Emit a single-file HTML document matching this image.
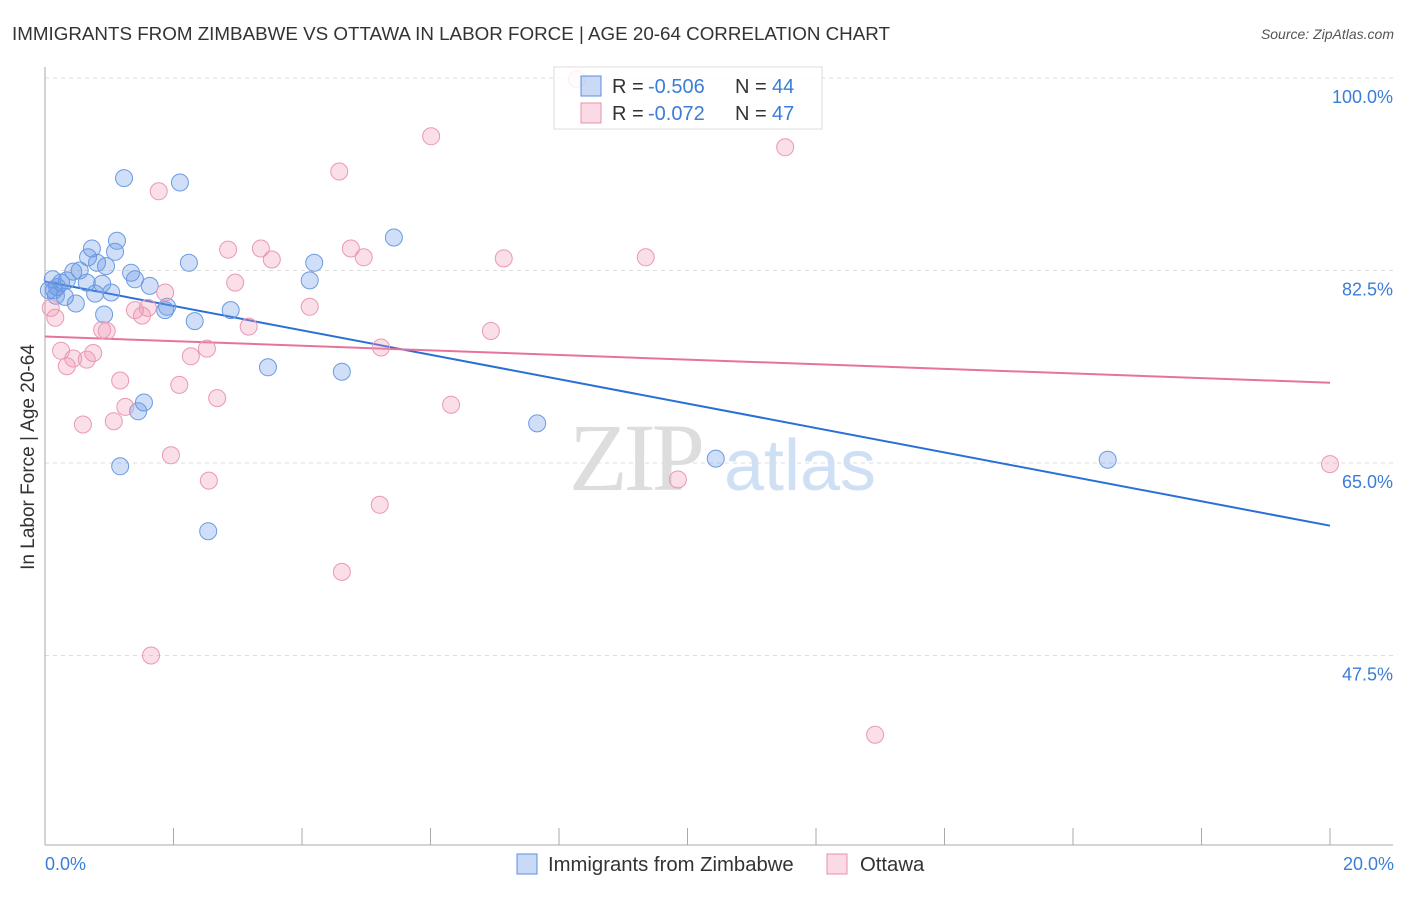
<!DOCTYPE html>
<html><head><meta charset="utf-8"><style>
body{margin:0;background:#fff;font-family:"Liberation Sans",sans-serif;}
</style></head><body>
<svg width="1406" height="892" xmlns="http://www.w3.org/2000/svg">
<text x="12" y="40" font-size="18.8" fill="#333">IMMIGRANTS FROM ZIMBABWE VS OTTAWA IN LABOR FORCE | AGE 20-64 CORRELATION CHART</text>
<text x="1394" y="39" font-size="14" fill="#555" text-anchor="end" font-style="italic">Source: ZipAtlas.com</text>
<g>
<text x="635" y="490" font-size="96" fill="#ddd" text-anchor="middle" font-family="Liberation Serif,serif" letter-spacing="-4">ZIP</text>
<text x="800" y="490" font-size="72" fill="#cfe0f5" text-anchor="middle">atlas</text>
</g>
<g id="grid"></g>
<g id="axes"></g>
<g id="lines"></g>
<g id="pts"></g>
<text transform="translate(34,457) rotate(-90)" font-size="19" fill="#333" text-anchor="middle">In Labor Force | Age 20-64</text>
<text x="45" y="870" font-size="18" fill="#3b7dd8">0.0%</text>
<text x="1394" y="870" font-size="18" fill="#3b7dd8" text-anchor="end">20.0%</text>
<g>
<rect x="554" y="67" width="268" height="62" fill="rgba(255,255,255,0.85)" stroke="#ddd"/>
<rect x="581" y="76" width="20" height="20" fill="rgba(100,150,230,0.35)" stroke="#5b8ee0"/>
<rect x="581" y="103" width="20" height="20" fill="rgba(240,150,180,0.35)" stroke="#e890ab"/>
<text x="612" y="93" font-size="20" fill="#333">R =</text>
<text x="648" y="93" font-size="20" fill="#3b7dd8">-0.506</text>
<text x="735" y="93" font-size="20" fill="#333">N =</text>
<text x="772" y="93" font-size="20" fill="#3b7dd8">44</text>
<text x="612" y="120" font-size="20" fill="#333">R =</text>
<text x="648" y="120" font-size="20" fill="#3b7dd8">-0.072</text>
<text x="735" y="120" font-size="20" fill="#333">N =</text>
<text x="772" y="120" font-size="20" fill="#3b7dd8">47</text>
</g>
<g>
<rect x="517" y="854" width="20" height="20" fill="rgba(100,150,230,0.35)" stroke="#5b8ee0"/>
<text x="548" y="871" font-size="20.3" fill="#333">Immigrants from Zimbabwe</text>
<rect x="827" y="854" width="20" height="20" fill="rgba(240,150,180,0.35)" stroke="#e890ab"/>
<text x="860" y="871" font-size="20.3" fill="#333">Ottawa</text>
</g>
</svg>
<script>
const yTicks=[100,82.5,65,47.5];
const yTickLabels=["100.0%","82.5%","65.0%","47.5%"];
const xTicks=[0,2,4,6,8,10,12,14,16,18,20];
const blueX=[1.23,2.10,1.12,0.73,1.09,0.67,0.81,0.95,0.54,0.44,0.12,1.34,1.40,0.34,0.25,0.19,0.06,0.89,1.63,0.78,1.03,0.31,0.48,0.92,1.90,1.87,2.33,2.89,2.24,4.19,4.12,5.43,3.47,4.62,1.54,1.45,1.17,2.54,7.66,10.44,16.54,0.14,0.17,0.65];
const blueY=[90.9,90.5,85.2,84.5,84.2,83.7,83.2,82.9,82.5,82.4,81.7,82.3,81.7,81.6,81.4,81.0,80.7,81.3,81.1,80.4,80.5,80.1,79.5,78.5,79.2,78.9,77.9,78.9,83.2,83.2,81.6,85.5,73.7,73.3,70.5,69.7,64.7,58.8,68.6,65.4,65.3,80.7,80.2,81.4];
const pinkX=[8.28,6.01,11.52,4.58,1.77,2.85,3.36,4.76,4.96,3.53,7.14,9.35,2.96,1.87,4.12,1.40,1.60,1.51,0.16,3.17,0.89,0.96,6.94,5.23,2.52,0.25,0.75,2.27,0.44,0.65,0.34,1.17,2.09,2.68,6.32,1.25,1.07,0.59,1.96,2.55,9.85,20.0,5.21,4.62,1.65,12.92,0.09];
const pinkY=[99.9,94.7,93.7,91.5,89.7,84.4,84.5,84.5,83.7,83.5,83.6,83.7,81.4,80.5,79.2,78.9,79.1,78.4,78.2,77.4,77.1,77.0,77.0,75.5,75.4,75.2,75.0,74.7,74.5,74.4,73.8,72.5,72.1,70.9,70.3,70.1,68.8,68.5,65.7,63.4,63.5,64.9,61.2,55.1,47.5,40.3,79.1];
const blueTrend=[81.5,59.3];
const pinkTrend=[76.5,72.3];
const NS="http://www.w3.org/2000/svg";
const sx=v=>45+v/20*1285;
const sy=v=>78+(100-v)*11;
function mk(tag,attrs,parent){const e=document.createElementNS(NS,tag);for(const k in attrs)e.setAttribute(k,attrs[k]);document.getElementById(parent).appendChild(e);return e;}
yTicks.forEach((t,i)=>{
 const l=mk('line',{x1:45,x2:1393,y1:sy(t),y2:sy(t),stroke:'#ddd','stroke-dasharray':'4,4'},'grid');
 
 
 const tx=mk('text',{x:1393,y:sy(t)+25,'font-size':18,fill:'#3b7dd8','text-anchor':'end'},'grid');
 tx.textContent=yTickLabels[i];
 
 
});
const ya=mk('line',{x1:45,x2:45,y1:67,y2:845,stroke:'#aaa'},'axes');


const xa=mk('line',{x1:45,x2:1393,y1:845,y2:845,stroke:'#aaa'},'axes');


xTicks.forEach(t=>{
 const l=mk('line',{x1:sx(t),x2:sx(t),y1:828,y2:845,stroke:'#aaa'},'axes');
 
 
});
function pts(X,Y,fill,stroke,name){
 X.forEach((x,i)=>{
  const c=mk('circle',{cx:sx(x),cy:sy(Y[i]),r:8.5,fill:fill,stroke:stroke,'stroke-width':1},'pts');
  
  
 });
}
pts(blueX,blueY,'rgba(100,150,230,0.3)','#6a9be3','point-zimbabwe');
pts(pinkX,pinkY,'rgba(240,150,180,0.3)','#eb98b3','point-ottawa');
const bl=mk('line',{x1:sx(0),y1:sy(blueTrend[0]),x2:sx(20),y2:sy(blueTrend[1]),stroke:'#2a6fd6','stroke-width':2},'lines');


const pl=mk('line',{x1:sx(0),y1:sy(pinkTrend[0]),x2:sx(20),y2:sy(pinkTrend[1]),stroke:'#e8739a','stroke-width':2},'lines');


</script>
</body></html>
